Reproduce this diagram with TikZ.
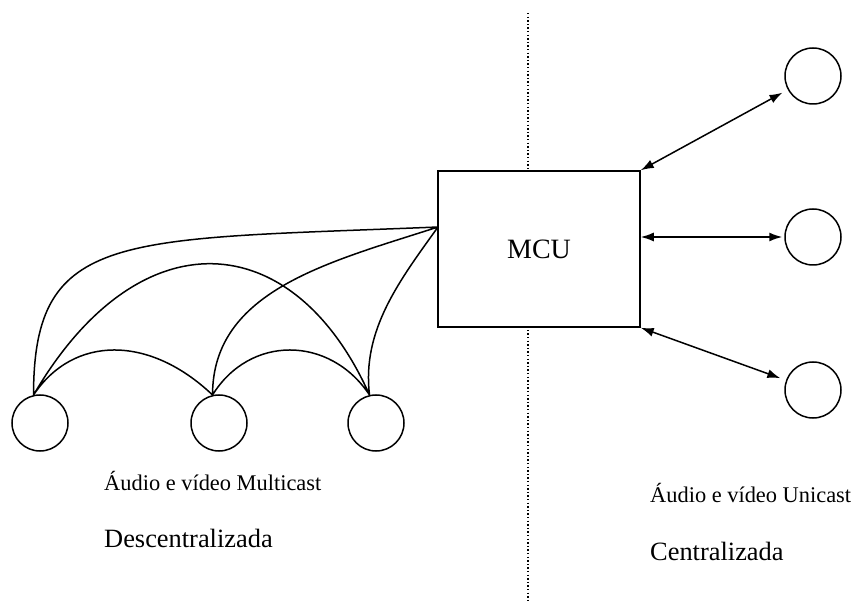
\documentclass[tikz,border=0pt]{standalone}
\usepackage{fontspec}
\setmainfont{Liberation Serif}
\usetikzlibrary{arrows.meta}

\begin{document}
\begin{tikzpicture}[x=1pt, y=-1pt,
      every node/.style={font=\fontsize{26.4}{30}\selectfont},
      site/.style={draw, circle, line width=1.5pt, minimum size=56pt, inner sep=0pt},
      link/.style={line width=1.5pt},
      duplex/.style={line width=1.5pt, {Latex[length=13pt,width=9pt]}-{Latex[length=13pt,width=9pt]}},
      note/.style={anchor=base west, inner sep=0pt},
      small/.style={font=\fontsize{22.4}{26}\selectfont}]
      \useasboundingbox (0, 0) rectangle (857, 601);
      \coordinate (top) at (528, 13);
      \coordinate (bottom) at (528, 601);
      \draw [line width=1.2pt, dash pattern=on 1.4pt off 2.2pt] (top) -- (bottom);
      \node (mcu) [draw, fill=white, line width=1.5pt, minimum width=202pt, minimum height=156pt,
            font=\fontsize{28}{32}\selectfont] at (539, 249) {MCU};
      \coordinate (hub) at (438, 227);
      \node (c1) [site] at (40, 423) {};
      \node (c2) [site] at (219, 423) {};
      \node (c3) [site] at (376, 423) {};
      \node (r1) [site] at (813, 76) {};
      \node (r2) [site] at (813, 237) {};
      \node (r3) [site] at (813, 390) {};
      \draw [link] (c1.103) .. controls +(0, -165) and +(-318, 13) .. (hub)
            (c1.103) .. controls +(105, -180) and +(-76, -170) .. (c3.103)
            (c1.103) .. controls +(40, -60) and +(-63, -60) .. (c2.103)
            (c2.103) .. controls +(37, -60) and +(-40, -60) .. (c3.103)
            (c2.103) .. controls +(0, -105) and +(-108, 35) .. (hub)
            (c3.103) .. controls +(-8, -65) and +(-38, 53) .. (hub);
      \draw [duplex, shorten >=6pt] (mcu.north east) -- (r1);
      \draw [duplex, shorten >=2pt] (mcu.east |- r2) -- (r2);
      \draw [duplex, shorten >=6pt] (mcu.south east) -- (r3);
      \node (multi) [note, small] at (104, 490) {Áudio e vídeo Multicast};
      \node (descent) [note] at (104, 547) {Descentralizada};
      \node (uni) [note, small] at (650, 502) {Áudio e vídeo Unicast};
      \node (cent) [note] at (650, 560) {Centralizada};
\end{tikzpicture}
\end{document}
